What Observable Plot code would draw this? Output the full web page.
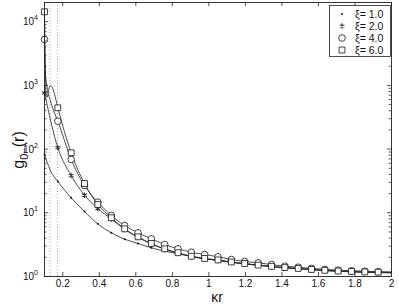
<!DOCTYPE html>
<html><head><meta charset="utf-8">
<script src="https://cdn.jsdelivr.net/npm/d3@7"></script>
<script src="https://cdn.jsdelivr.net/npm/@observablehq/plot@0.6"></script>
<style>body{margin:0;background:#fff;} svg{display:block}</style>
</head><body><div id="chart"></div>
<script>
// marker positions (κr)
const kr = [0.100, 0.173, 0.246, 0.319, 0.392, 0.466, 0.539, 0.612, 0.685, 0.758, 0.831, 0.904, 0.977, 1.050, 1.123, 1.196, 1.270, 1.343, 1.416, 1.489, 1.562, 1.635, 1.708, 1.781, 1.854, 1.927];
const g_xi1 = [82, 31, 17.2, 10.5, 6.7, 4.85, 3.85, 3.3, 2.82, 2.5, 2.27, 2.08, 1.9, 1.79, 1.67, 1.58, 1.5, 1.43, 1.37, 1.32, 1.28, 1.24, 1.21, 1.18, 1.16, 1.15];
const g_xi2 = [760, 105, 38.5, 18.9, 11.6, 8.0, 5.47, 4.1, 3.24, 2.68, 2.32, 2.05, 1.89, 1.79, 1.67, 1.58, 1.50, 1.43, 1.37, 1.33, 1.28, 1.24, 1.21, 1.19, 1.17, 1.16];
const g_xi4 = [5250, 274, 68.7, 26.8, 14.7, 9.07, 6.32, 4.85, 3.9, 3.18, 2.72, 2.41, 2.21, 2.04, 1.85, 1.72, 1.64, 1.54, 1.45, 1.40, 1.34, 1.29, 1.26, 1.23, 1.21, 1.19];
const g_xi6 = [14300, 445, 87.5, 28.8, 13.5, 8.35, 5.6, 4.2, 3.3, 2.72, 2.36, 2.08, 1.92, 1.82, 1.69, 1.60, 1.51, 1.445, 1.38, 1.34, 1.29, 1.25, 1.22, 1.20, 1.18, 1.17];
// end of curves at κr = 2
const endX = 2.0;
const end_xi1 = 1.14, end_xi2 = 1.15, end_xi4 = 1.18, end_xi6 = 1.16;
// extra line-only points read near the left edge
const extra1X = [0.134], extra1Y = [45];
const extra2X = [], extra2Y = [];
const extra4X = [0.103, 0.115, 0.130, 0.150], extra4Y = [2000, 900, 600, 400];
const extra6X = [0.104, 0.108, 0.115, 0.124, 0.130, 0.140, 0.148], extra6Y = [2500, 700, 650, 900, 980, 960, 850];

const xTickValues = [0.2, 0.4, 0.6, 0.8, 1, 1.2, 1.4, 1.6, 1.8, 2];
const xTickLabels = ["0.2", "0.4", "0.6", "0.8", "1", "1.2", "1.4", "1.6", "1.8", "2"];
const yTickValues = [1, 10, 100, 1000, 10000];
const yTickExp = ["0", "1", "2", "3", "4"];
const dottedX = [0.13, 0.171];
const legendLabels = ["ξ= 1.0", "ξ= 2.0", "ξ= 4.0", "ξ= 6.0"];

const W = 399, H = 307, mL = 44, mR = 8, mT = 2, mB = 31;
const pW = W - mL - mR, pH = H - mT - mB;
const FONT = "'Liberation Sans', Arial, sans-serif";

function mk(ys){ return kr.map((x,i)=>({x, y: ys[i]})); }
function ln(ys, ex, ey, e){
  return mk(ys).concat(ex.map((x,i)=>({x, y: ey[i]}))).concat([{x: endX, y: e}]).sort((a,b)=>a.x-b.x);
}
const m1 = mk(g_xi1), m2 = mk(g_xi2), m4 = mk(g_xi4), m6 = mk(g_xi6);
const l1 = ln(g_xi1, extra1X, extra1Y, end_xi1), l2 = ln(g_xi2, extra2X, extra2Y, end_xi2),
      l4 = ln(g_xi4, extra4X, extra4Y, end_xi4), l6 = ln(g_xi6, extra6X, extra6Y, end_xi6);

const minorY = yTickValues.slice(0, -1).flatMap(d => [2,3,4,5,6,7,8,9].map(m => m*d));
const lineStyle = {x: "x", y: "y", stroke: "#222", strokeWidth: 0.8, curve: "monotone-x"};

const plot = Plot.plot({
  width: W, height: H, marginLeft: mL, marginRight: mR, marginTop: mT, marginBottom: mB,
  style: {fontFamily: FONT, fontSize: "10px", background: "white", color: "#111"},
  x: {domain: [0.1, 2], label: null},
  y: {type: "log", domain: [1, 20000], label: null, axis: null},
  marks: [
    Plot.ruleX(dottedX, {x: d => d, stroke: "#999", strokeWidth: 0.8, strokeDasharray: "1,2"}),
    Plot.line(l1, lineStyle),
    Plot.line(l2, lineStyle),
    Plot.line(l4, lineStyle),
    Plot.line(l6, lineStyle),
    Plot.dot(m1, {x: "x", y: "y", r: 1, fill: "#111", stroke: null}),
    Plot.dot(m2, {x: "x", y: "y", r: 2.6, symbol: "asterisk", stroke: "#333", strokeWidth: 1.1}),
    Plot.dot(m4, {x: "x", y: "y", r: 3.3, symbol: "circle", fill: "white", stroke: "#111", strokeWidth: 0.8}),
    Plot.dot(m6, {x: "x", y: "y", r: 3.3, symbol: "square", fill: "white", stroke: "#111", strokeWidth: 0.8}),
    // inward ticks
    Plot.tickX(xTickValues, {x: d => d, insetTop: pH - 4, stroke: "#222", strokeWidth: 0.8}),
    Plot.tickX(xTickValues, {x: d => d, insetBottom: pH - 4, stroke: "#222", strokeWidth: 0.8}),
    Plot.tickY(yTickValues, {y: d => d, insetRight: pW - 4, stroke: "#222", strokeWidth: 0.8}),
    Plot.tickY(yTickValues, {y: d => d, insetLeft: pW - 4, stroke: "#222", strokeWidth: 0.8}),
    Plot.tickY(minorY, {y: d => d, insetRight: pW - 2.5, stroke: "#222", strokeWidth: 0.7}),
    Plot.tickY(minorY, {y: d => d, insetLeft: pW - 2.5, stroke: "#222", strokeWidth: 0.7}),
    Plot.axisX({ticks: xTickValues, tickSize: 0, tickPadding: 3, fontSize: 10,
      tickFormat: d => xTickLabels[xTickValues.findIndex(v => Math.abs(v - d) < 1e-9)]}),
    Plot.frame({stroke: "#222", strokeWidth: 0.9})
  ]
});

const svg = d3.select(plot);
const y = plot.scale("y");
// y tick labels with real superscripts
yTickValues.forEach((v, i) => {
  const t = svg.append("text").attr("x", 38).attr("y", y.apply(v) + 4).attr("text-anchor", "end")
    .attr("font-family", FONT).attr("font-size", 10).attr("fill", "#111");
  t.append("tspan").text("10");
  t.append("tspan").attr("font-size", 7).attr("dy", -5).text(yTickExp[i]);
});
// y label
const yl = svg.append("text").attr("transform", "translate(24,150) rotate(-90)")
  .attr("text-anchor", "middle").attr("font-size", 16).attr("fill", "#111")
  .attr("font-family", FONT);
yl.append("tspan").text("g");
yl.append("tspan").attr("font-size", 11).attr("dy", 4).text("0−");
yl.append("tspan").attr("dy", -4).text("(r)");
// x label
svg.append("text").attr("x", 217).attr("y", 302).attr("text-anchor", "middle")
  .attr("font-size", 14).attr("fill", "#111").attr("font-family", FONT).text("κr");

// legend
const lg = svg.append("g").attr("font-family", FONT).attr("font-size", 10.5);
lg.append("rect").attr("x", 329.5).attr("y", 5.5).attr("width", 61).attr("height", 51)
  .attr("fill", "white").attr("stroke", "#222").attr("stroke-width", 0.8);
const rowsY = [14, 26, 38, 50];
const syms = [
  {type: d3.symbolCircle, size: Math.PI*1, fill: "#111", stroke: "none", sw: 0},
  {type: d3.symbolAsterisk, size: Math.PI*2.6*2.6, fill: "none", stroke: "#333", sw: 1.1},
  {type: d3.symbolCircle, size: Math.PI*3.3*3.3, fill: "white", stroke: "#111", sw: 0.8},
  {type: d3.symbolSquare, size: Math.PI*3.3*3.3, fill: "white", stroke: "#111", sw: 0.8}
];
legendLabels.forEach((t, i) => {
  const s = syms[i];
  lg.append("path").attr("d", d3.symbol(s.type, s.size)()).attr("transform", `translate(342,${rowsY[i]})`)
    .attr("fill", s.fill).attr("stroke", s.stroke).attr("stroke-width", s.sw);
  lg.append("text").attr("x", 355).attr("y", rowsY[i]).attr("dy", "0.35em").attr("text-anchor", "start")
    .attr("fill", "#111").text(t);
});

document.getElementById("chart").appendChild(plot);
</script>
</body></html>
